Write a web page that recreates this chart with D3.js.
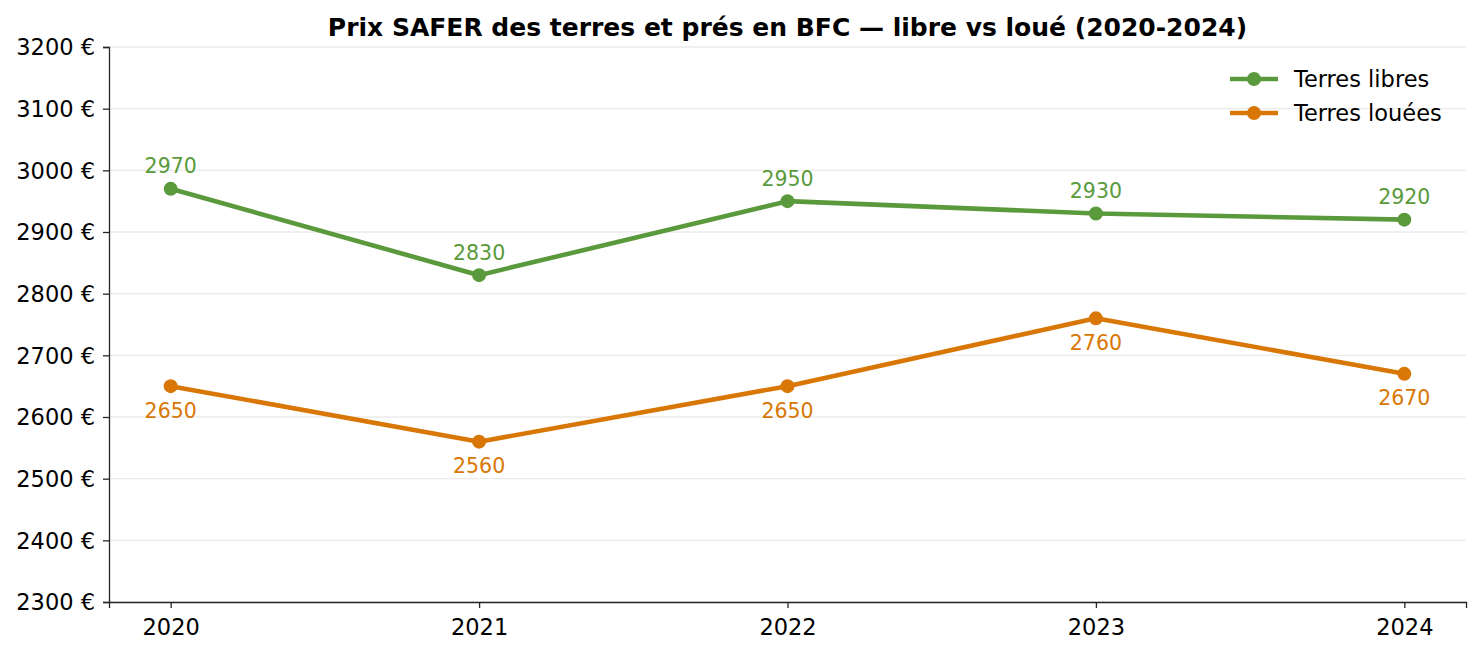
<!DOCTYPE html>
<html>
<head>
<meta charset="utf-8">
<script src="https://cdn.jsdelivr.net/npm/d3@7"></script>
<style>
  body { margin: 0; background: #fff; }
  svg { font-family: "DejaVu Sans", sans-serif; }
</style>
</head>
<body>
<div id="chart"></div>
<script>
const years = [2020, 2021, 2022, 2023, 2024];
const libres = [2970, 2830, 2950, 2930, 2920];
const louees = [2650, 2560, 2650, 2760, 2670];
const yTicks = [2300, 2400, 2500, 2600, 2700, 2800, 2900, 3000, 3100, 3200];

const W = 1480, H = 655;
const m = {top: 47, right: 14, bottom: 53, left: 109};

const svg = d3.select("#chart").append("svg")
    .attr("width", W).attr("height", H);

const x = d3.scaleLinear().domain([2019.8, 2024.2]).range([m.left, W - m.right]);
const y = d3.scaleLinear().domain([2300, 3200]).range([H - m.bottom, m.top]);

// grid
svg.append("g").selectAll("line")
    .data(yTicks)
    .enter().append("line")
    .attr("x1", m.left).attr("x2", W - m.right)
    .attr("y1", d => y(d)).attr("y2", d => y(d))
    .attr("stroke", "#ebebeb").attr("stroke-width", 1.3);

// axes
const xAxis = svg.append("g")
    .attr("transform", `translate(0,${H - m.bottom})`)
    .call(d3.axisBottom(x).tickValues(years).tickFormat(d3.format("d")).tickSize(6).tickPadding(11));
const yAxis = svg.append("g")
    .attr("transform", `translate(${m.left},0)`)
    .call(d3.axisLeft(y).tickValues(yTicks).tickFormat(d => d + " €").tickSize(6).tickPadding(8));

[xAxis, yAxis].forEach(a => {
    a.select(".domain").attr("stroke", "#262626").attr("stroke-width", 1.3);
    a.selectAll(".tick line").attr("stroke", "#262626").attr("stroke-width", 1.3);
    a.selectAll("text").attr("font-size", 22.5).attr("fill", "#000")
        .attr("font-family", "DejaVu Sans");
});
yAxis.selectAll("text").attr("dy", "0.35em");

const series = [
    {name: "Terres libres", values: libres, color: "#5a9a3c", dy: -15.5},
    {name: "Terres louées", values: louees, color: "#d97706", dy: 31.5}
];

const line = d3.line().x((d, i) => x(years[i])).y(d => y(d));

series.forEach(s => {
    svg.append("path")
        .datum(s.values)
        .attr("fill", "none")
        .attr("stroke", s.color)
        .attr("stroke-width", 4.6)
        .attr("stroke-linejoin", "round")
        .attr("d", line);

    svg.append("g").selectAll("circle")
        .data(s.values)
        .enter().append("circle")
        .attr("cx", (d, i) => x(years[i]))
        .attr("cy", d => y(d))
        .attr("r", 7)
        .attr("fill", s.color);

    svg.append("g").selectAll("text")
        .data(s.values)
        .enter().append("text")
        .attr("x", (d, i) => x(years[i]))
        .attr("y", d => y(d) + s.dy)
        .attr("text-anchor", "middle")
        .attr("font-size", 20.5)
        .attr("fill", s.color)
        .text(d => d);
});

// title
svg.append("text")
    .attr("x", (m.left + W - m.right) / 2)
    .attr("y", 36)
    .attr("text-anchor", "middle")
    .attr("font-size", 25)
    .attr("font-weight", "bold")
    .text("Prix SAFER des terres et prés en BFC — libre vs loué (2020-2024)");

// legend
const legend = svg.append("g");
series.forEach((s, i) => {
    const ly = 79 + i * 34;
    legend.append("line")
        .attr("x1", 1230).attr("x2", 1278)
        .attr("y1", ly).attr("y2", ly)
        .attr("stroke", s.color).attr("stroke-width", 4.6);
    legend.append("circle")
        .attr("cx", 1254).attr("cy", ly).attr("r", 7)
        .attr("fill", s.color);
    legend.append("text")
        .attr("x", 1294).attr("y", ly)
        .attr("dy", "0.35em")
        .attr("font-size", 22.5)
        .text(s.name);
});
</script>
</body>
</html>
